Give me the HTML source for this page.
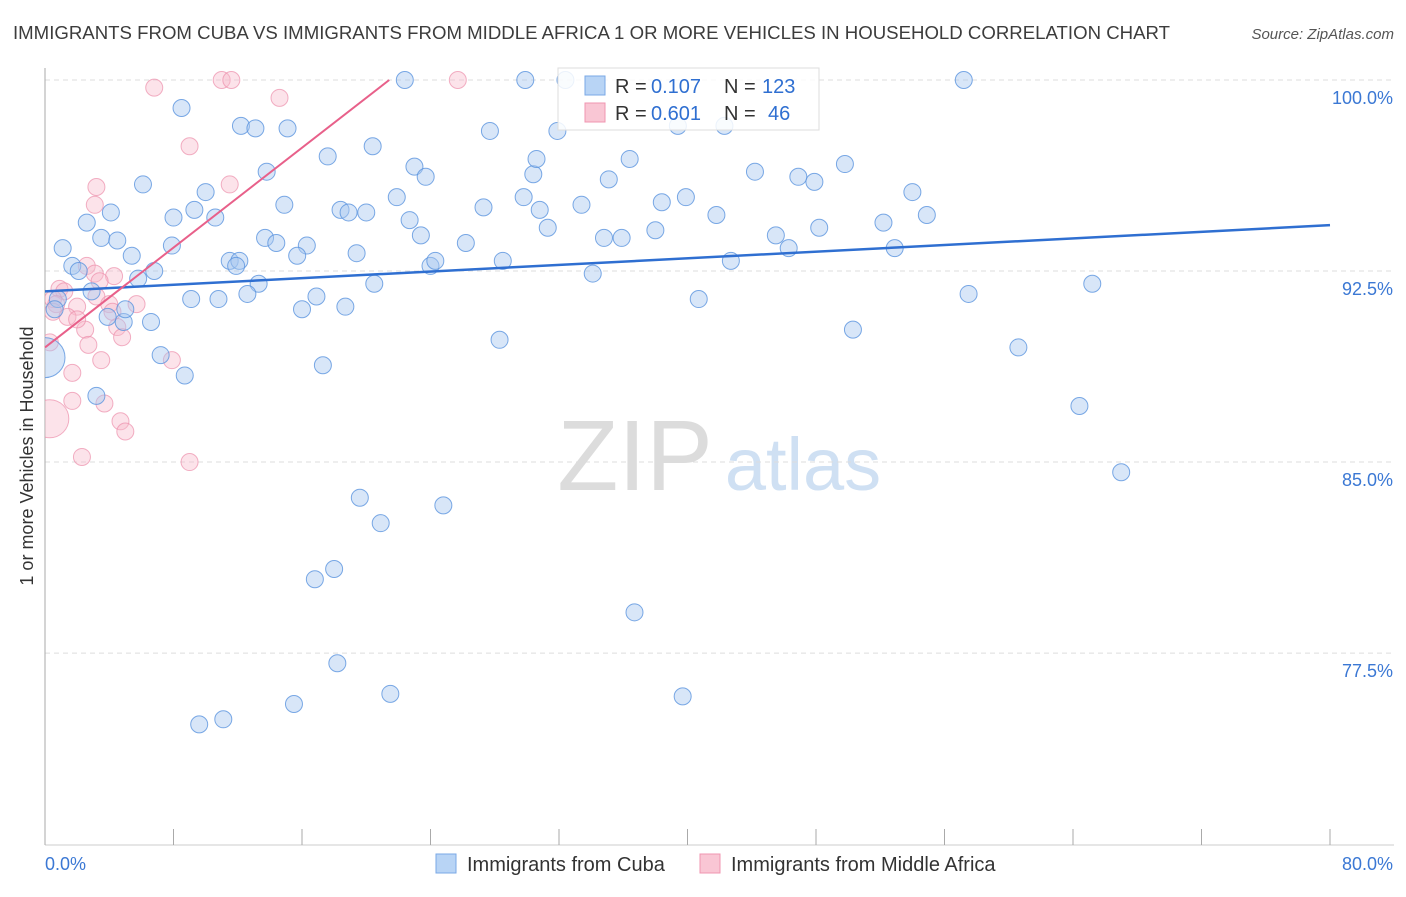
<!DOCTYPE html>
<html><head><meta charset="utf-8">
<style>
body{margin:0;background:#fff;font-family:"Liberation Sans",sans-serif;}
svg text{font-family:"Liberation Sans",sans-serif;}
</style></head>
<body>
<svg id="chart" width="1406" height="892" viewBox="0 0 1406 892" xmlns="http://www.w3.org/2000/svg">
<defs><clipPath id="plotclip"><rect x="45" y="60" width="1360" height="790"/></clipPath></defs>
<text x="13" y="39" font-size="18.5" fill="#3c3c3c" textLength="1157" lengthAdjust="spacingAndGlyphs">IMMIGRANTS FROM CUBA VS IMMIGRANTS FROM MIDDLE AFRICA 1 OR MORE VEHICLES IN HOUSEHOLD CORRELATION CHART</text>
<text x="1394" y="39" font-size="15" fill="#555" text-anchor="end" font-style="italic">Source: ZipAtlas.com</text>
<text transform="translate(33,456) rotate(-90)" font-size="18" fill="#333" text-anchor="middle">1 or more Vehicles in Household</text>
<g>
<text x="635" y="490" font-size="100" fill="#dcdcdc" font-family="Liberation Serif" text-anchor="middle">ZIP</text>
<text x="803" y="490" font-size="74" fill="#cfe0f3" text-anchor="middle">atlas</text>
</g>
<g id="grid"></g>
<g id="axes"></g>
<g id="points" clip-path="url(#plotclip)"></g>
<g id="lines"></g>
<g>
<rect x="558" y="68" width="261" height="62" fill="#fff" fill-opacity="0.85" stroke="#ddd"/>
<rect x="585" y="76" width="20" height="19" fill="#b8d4f5" stroke="#7aa8e6"/>
<text x="615" y="93" font-size="20" fill="#333">R = </text><text x="651" y="93" font-size="20" fill="#2f6fd1">0.107</text>
<text x="724" y="93" font-size="20" fill="#333">N = </text><text x="762" y="93" font-size="20" fill="#2f6fd1">123</text>
<rect x="585" y="103" width="20" height="19" fill="#f9c6d4" stroke="#f095b0"/>
<text x="615" y="120" font-size="20" fill="#333">R = </text><text x="651" y="120" font-size="20" fill="#2f6fd1">0.601</text>
<text x="724" y="120" font-size="20" fill="#333">N = </text><text x="768" y="120" font-size="20" fill="#2f6fd1">46</text>
</g>
<g>
<rect x="436" y="854" width="20" height="19" fill="#b8d4f5" stroke="#7aa8e6"/>
<text x="467" y="871" font-size="20" fill="#333">Immigrants from Cuba</text>
<rect x="700" y="854" width="20" height="19" fill="#f9c6d4" stroke="#f095b0"/>
<text x="731" y="871" font-size="20" fill="#333">Immigrants from Middle Africa</text>
</g>
</svg>
<script>
const yTicks=[100,92.5,85,77.5];
const yTickLabels=["100.0%","92.5%","85.0%","77.5%"];
const xTickCount=10;
const xLabels=["0.0%","80.0%"];
const cubaX=[22.4,29.9,32.4,57.2,8.5,12.2,13.1,15.1,27.7,31.9,42.3,39.4,20.4,17.6,36.4,13.8,23.0,23.7,30.4,30.6,35.1,44.2,46.9,47.9,49.8,6.1,10.0,54.0,21.9,29.8,39.9,38.4,4.1,8.0,9.3,10.6,14.9,18.4,18.9,20.0,22.7,27.3,30.8,33.4,41.8,54.9,52.2,2.6,31.3,38.0,48.2,1.1,3.5,4.5,7.9,13.7,14.4,16.3,19.4,23.4,26.2,34.8,35.9,45.5,46.3,52.9,5.4,1.7,2.1,6.8,5.8,11.5,12.1,11.9,15.7,24.0,24.3,28.5,34.1,42.7,13.3,20.5,10.8,9.1,12.6,16.9,16.0,18.7,4.9,6.6,5.0,3.9,0.8,40.7,57.5,65.2,28.3,50.3,60.6,7.2,17.3,8.7,3.2,64.4,67.0,19.6,24.8,20.9,18.0,16.8,36.7,18.2,21.5,39.7,15.5,11.1,9.6,0,0.6,2.9];
const cubaY=[100,100,100,100,98.9,98.2,98.1,98.1,98.0,98.0,98.2,98.2,97.4,97.0,96.9,96.4,96.6,96.2,96.3,96.9,96.1,96.4,96.2,96.0,96.7,95.9,95.6,95.6,95.4,95.4,95.4,95.2,94.8,94.6,94.9,94.6,95.1,94.9,94.8,94.8,94.5,95.0,94.9,95.1,94.7,94.7,94.4,94.4,94.2,94.1,94.2,93.4,93.8,93.7,93.5,93.8,93.6,93.5,93.2,93.9,93.6,93.8,93.8,93.9,93.4,93.4,93.1,92.7,92.5,92.5,92.2,92.9,92.9,92.7,93.1,92.7,92.9,92.9,92.4,92.9,92.0,92.0,91.4,91.4,91.6,91.5,91.0,91.1,90.5,90.5,91.0,90.7,91.4,91.4,91.6,92.0,89.8,90.2,89.5,89.2,88.8,88.4,87.6,87.2,84.6,83.6,83.3,82.6,80.8,80.4,79.1,77.1,75.9,75.8,75.5,74.9,74.7,89.1,91.0,91.7];
const africaX=[11.0,11.6,25.7,6.8,14.6,9.0,3.2,3.1,11.5,2.6,3.1,4.3,3.4,0.9,1.2,0.5,0.7,0.5,2.0,1.4,3.2,4.0,5.7,4.2,2.5,2.7,0.3,3.5,1.7,7.9,1.7,3.7,0.3,4.7,5.0,2.3,9.0,4.5,4.8,2.0];
const africaY=[100,100,100,99.7,99.3,97.4,95.8,95.1,95.9,92.7,92.4,92.3,92.1,91.8,91.7,91.4,91.2,90.9,91.1,90.7,91.5,91.2,91.2,90.9,90.2,89.6,89.7,89.0,88.5,89.0,87.4,87.3,86.7,86.6,86.2,85.2,85.0,90.3,89.9,90.6];
const cubaTrend=[91.7,94.3];      // y at x=0 and x=80
const africaTrend=[89.5,0.49];    // intercept, slope
const bigCuba=117, bigAfrica=32;

const NS="http://www.w3.org/2000/svg";
const X0=45,X1=1330,Y100=80,PXPCT=25.47;
function sx(v){return X0+(X1-X0)*v/80;}
function sy(v){return Y100+(100-v)*PXPCT;}
function mk(tag,attrs,parent){const e=document.createElementNS(NS,tag);for(const k in attrs)e.setAttribute(k,attrs[k]);parent.appendChild(e);return e;}
const grid=document.getElementById('grid'),axes=document.getElementById('axes'),pts=document.getElementById('points'),lines=document.getElementById('lines');
yTicks.forEach((t,i)=>{
 const l=mk('line',{x1:X0,x2:1394,y1:sy(t),y2:sy(t),stroke:'#ddd','stroke-dasharray':'5,4'},grid);
 
 
 const tx=mk('text',{x:1393,y:sy(t)+24,'font-size':18,fill:'#3b78d4','text-anchor':'end'},axes);
 tx.textContent=yTickLabels[i];
 
 
});
const ax=mk('line',{x1:X0,x2:X0,y1:68,y2:845,stroke:'#aaa'},axes);


const bx=mk('line',{x1:X0,x2:1394,y1:845,y2:845,stroke:'#ccc'},axes);


for(let i=0;i<=xTickCount;i++){
 const v=i*80/xTickCount;
 const t=mk('line',{x1:sx(v),x2:sx(v),y1:829,y2:845,stroke:'#aaa'},axes);
 
 
}
const xl0=mk('text',{x:45,y:870,'font-size':18,fill:'#3b78d4'},axes);xl0.textContent=xLabels[0];


const xl1=mk('text',{x:1393,y:870,'font-size':18,fill:'#3b78d4','text-anchor':'end'},axes);xl1.textContent=xLabels[1];


africaX.forEach((x,i)=>{
 const c=mk('circle',{cx:sx(x),cy:sy(africaY[i]),r:i===bigAfrica?19:8.5,fill:'#f7b8cb','fill-opacity':0.4,stroke:'#ec8fab','stroke-opacity':0.7,'stroke-width':1},pts);
 
 
});
cubaX.forEach((x,i)=>{
 const c=mk('circle',{cx:sx(x),cy:sy(cubaY[i]),r:i===bigCuba?20:8.5,fill:'#a9c8f0','fill-opacity':0.45,stroke:'#5a93de','stroke-opacity':0.8,'stroke-width':1},pts);
 
 
});
const bl=mk('line',{x1:sx(0),y1:sy(cubaTrend[0]),x2:sx(80),y2:sy(cubaTrend[1]),stroke:'#2f6fd1','stroke-width':2.5},lines);


const xEnd=(100-africaTrend[0])/africaTrend[1];
const pl=mk('line',{x1:sx(0),y1:sy(africaTrend[0]),x2:sx(xEnd),y2:sy(100),stroke:'#e8608a','stroke-width':2},lines);


</script>
</body></html>
